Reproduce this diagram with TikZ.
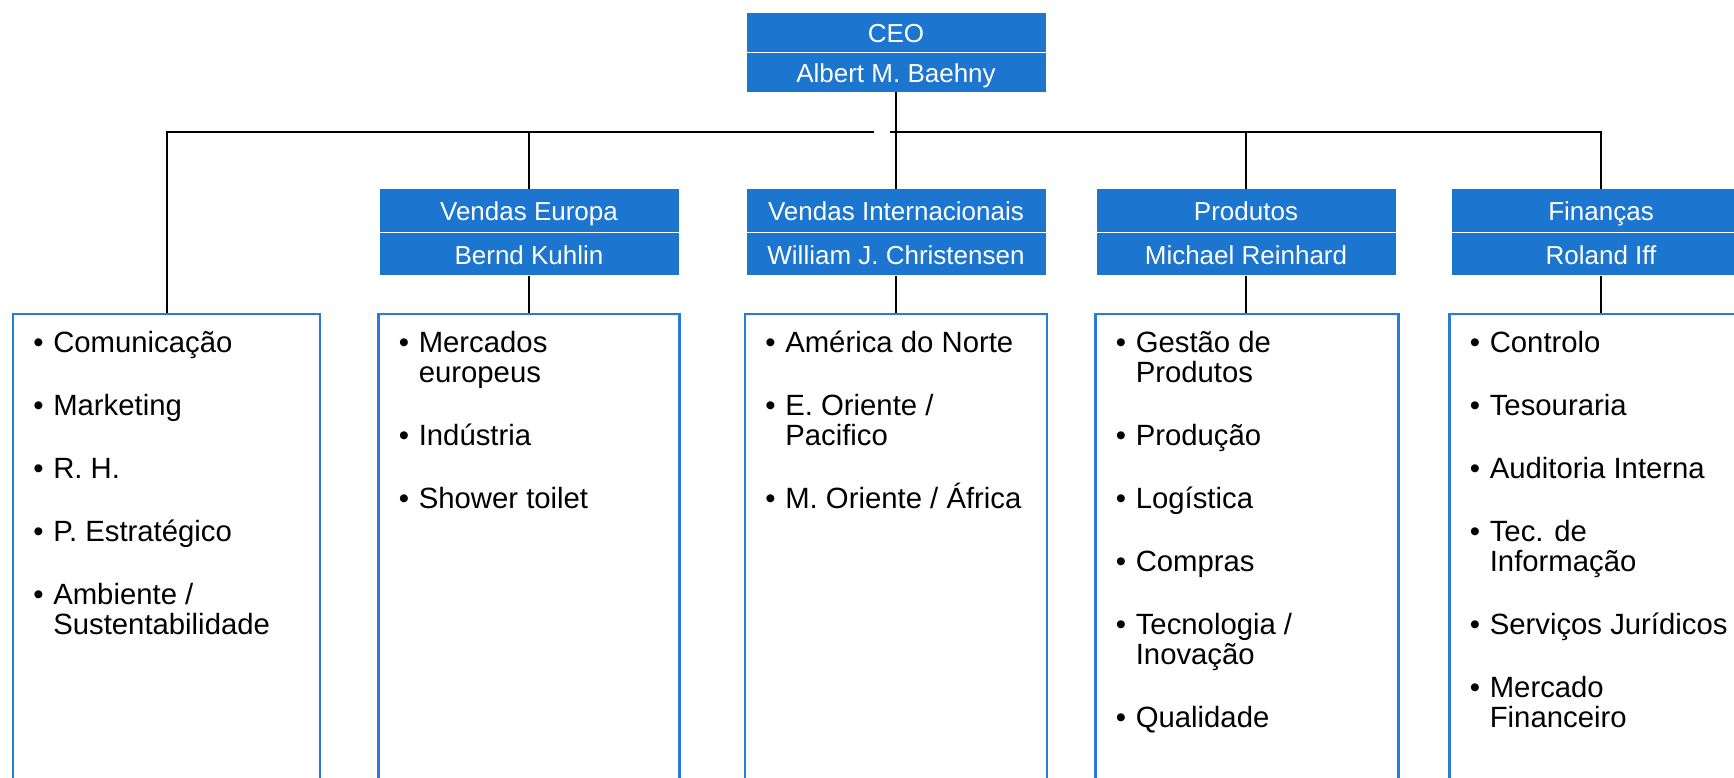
\documentclass[tikz,border=0pt]{standalone}
\usepackage{fontspec}
\setmainfont{Liberation Sans}
\usetikzlibrary{positioning}
\definecolor{hdblue}{RGB}{28,117,207}
\definecolor{lsblue}{RGB}{38,124,214}
\newcommand{\lbul}{\rule{0pt}{11.5pt}\makebox[10pt][l]{•}}
\newcommand{\lind}{\hspace*{10pt}}
\tikzset{
	head/.style={rectangle, fill=hdblue, draw=white, line width=0.5pt, outer sep=0pt, text=white, inner sep=0pt,
		minimum width=150pt, minimum height=21.75pt, text height=11pt, text depth=1pt,
		font=\fontsize{13pt}{15pt}\selectfont},
	listbox/.style={rectangle, draw=lsblue, line width=1.1pt, anchor=north, minimum height=320pt, inner sep=0pt},
	listtext/.style={inner sep=0pt, align=left, font=\fontsize{14.65pt}{15pt}\selectfont},
	conn/.style={line width=1pt, black}
}

\begin{document}
\begin{tikzpicture}[x=0.5pt, y=-0.5pt]
			%%%%% START %%%%%
			\useasboundingbox (0,0) rectangle (1734,777);
			
			\node[head, minimum height=20pt] (ceot) at (896,32) {CEO};
			\node[head, minimum height=20pt, below=0pt of ceot] (ceon) {Albert M. Baehny};
			
			\node[head] (veurt) at (529,210.5) {Vendas Europa};
			\node[head, below=0pt of veurt] (veurn) {Bernd Kuhlin};
			\node[head] (vintt) at (896,210.5) {Vendas Internacionais};
			\node[head, below=0pt of vintt] (vintn) {William J. Christensen};
			\node[head] (prodt) at (1246,210.5) {Produtos};
			\node[head, below=0pt of prodt] (prodn) {Michael Reinhard};
			\node[head] (fint) at (1601,210.5) {Finanças};
			\node[head, below=0pt of fint] (finn) {Roland Iff};
			
			\node[listbox, minimum width=153.5pt] (comlist) at (166.5,313) {};
			\node[listbox, minimum width=150.5pt] (veurlist) at (529,313) {};
			\node[listbox, minimum width=151pt] (vintlist) at (896,313) {};
			\node[listbox, minimum width=151.5pt] (prodlist) at (1247,313) {};
			\node[listbox, minimum width=151.5pt] (finlist) at (1601,313) {};
			
			\node[listtext, below right=8pt and 10.5pt of comlist.north west] (comtxt)
				{\lbul Comunicação\\[16.5pt] \lbul Marketing\\[16.5pt] \lbul R. H.\\[16.5pt]
				 \lbul P. Estratégico\\[16.5pt] \lbul Ambiente /\\ \lind Sustentabilidade};
			\node[listtext, below right=8pt and 10.5pt of veurlist.north west] (veurtxt)
				{\lbul Mercados\\ \lind europeus\\[16.5pt] \lbul Indústria\\[16.5pt] \lbul Shower toilet};
			\node[listtext, below right=8pt and 10.5pt of vintlist.north west] (vinttxt)
				{\lbul América do Norte\\[16.5pt] \lbul E. Oriente /\\ \lind Pacifico\\[16.5pt]
				 \lbul M. Oriente / África};
			\node[listtext, below right=8pt and 10.5pt of prodlist.north west] (prodtxt)
				{\lbul Gestão de\\ \lind Produtos\\[16.5pt] \lbul Produção\\[16.5pt] \lbul Logística\\[16.5pt]
				 \lbul Compras\\[16.5pt] \lbul Tecnologia /\\ \lind Inovação\\[16.5pt] \lbul Qualidade};
			\node[listtext, below right=8pt and 10.5pt of finlist.north west] (fintxt)
				{\lbul Controlo\\[16.5pt] \lbul Tesouraria\\[16.5pt] \lbul Auditoria Interna\\[16.5pt]
				 \lbul Tec. de\\ \lind Informação\\[16.5pt] \lbul Serviços Jurídicos\\[16.5pt]
				 \lbul Mercado\\ \lind Financeiro};
			
			\coordinate (bus) at (0,132);
			\coordinate (hopl) at (874,132);
			\coordinate (hopr) at (890,132);
			
			\draw[conn] (ceon.south) -- (vintt.north);
			\draw[conn] (comlist.north) |- (hopl);
			\draw[conn] (hopr) -| (fint.north);
			\draw[conn] (veurt.north) -- (veurt.north |- bus);
			\draw[conn] (prodt.north) -- (prodt.north |- bus);
			
			\draw[conn] (veurn.south) -- (veurn.south |- veurlist.north);
			\draw[conn] (vintn.south) -- (vintn.south |- vintlist.north);
			\draw[conn] (prodn.south) -- (prodn.south |- prodlist.north);
			\draw[conn] (finn.south) -- (finn.south |- finlist.north);
			
			%%%%% END %%%%%
\end{tikzpicture}
\end{document}
